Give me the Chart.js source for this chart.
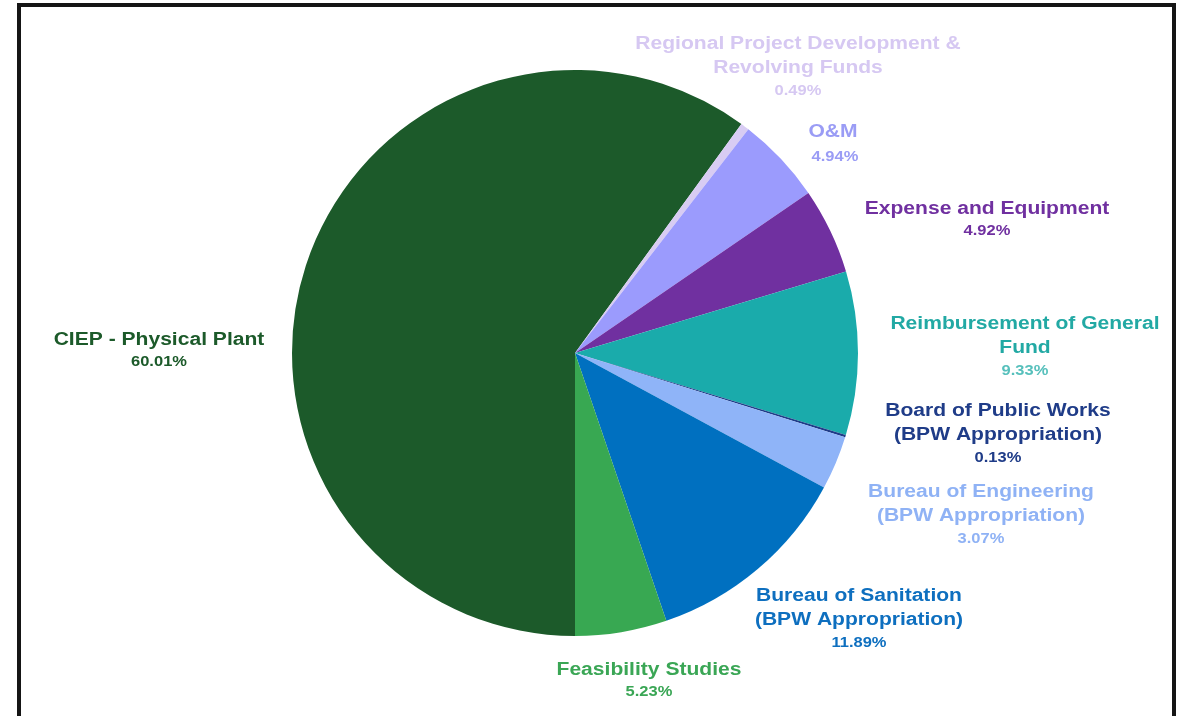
<!DOCTYPE html>
<html>
<head>
<meta charset="utf-8">
<script src="https://cdn.jsdelivr.net/npm/chart.js@4/dist/chart.umd.min.js"></script>
<style>
  html, body { margin: 0; padding: 0; background: #fff; }
  #wrap { width: 1186px; height: 716px; position: relative; }
</style>
</head>
<body>
<div id="wrap"><canvas id="budgetPie" width="1186" height="716"></canvas></div>
<script>
// slice order runs clockwise from the bottom of the pie
const categories = [
    ['CIEP - Physical Plant'],
    ['Regional Project Development &', 'Revolving Funds'],
    ['O&M'],
    ['Expense and Equipment'],
    ['Reimbursement of General', 'Fund'],
    ['Board of Public Works', '(BPW Appropriation)'],
    ['Bureau of Engineering', '(BPW Appropriation)'],
    ['Bureau of Sanitation', '(BPW Appropriation)'],
    ['Feasibility Studies']
];
const shares = [60.01, 0.49, 4.94, 4.92, 9.33, 0.13, 3.07, 11.89, 5.23];
const sliceColors = ['#1c5a2a', '#d8ccf3', '#9b9bfd', '#7030a0', '#1aabab', '#1f3c88', '#8fb4f8', '#0070c0', '#38a852'];
const labelColors = ['#1c5a2a', '#d6c8f2', '#9a9cf5', '#7030a0', '#22a9a4', '#1f3c88', '#8fb2f5', '#0e6fbf', '#3aa655'];
const pctColors = ['#1c5a2a', '#d6c8f2', '#9a9cf5', '#7030a0', '#57c0bc', '#1f3c88', '#8fb2f5', '#0e6fbf', '#3aa655'];

// where each label block sits (center x, first line middle y)
const labelSpots = [
    [159, 340], [798, 44], [833, 132], [987, 209], [1025, 324],
    [998, 411], [981, 492], [859, 596], [649, 670]
];

// the slide text is a bit wider than plain Arial, so stretch it sideways
function wideText(ctx, text, x, y, sx) {
    ctx.save();
    ctx.translate(x, y);
    ctx.scale(sx, 1);
    ctx.fillText(text, 0, 0);
    ctx.restore();
}

const outsideLabels = {
    id: 'outsideLabels',
    afterDraw(chart) {
        const ctx = chart.ctx;
        ctx.save();
        ctx.textAlign = 'center';
        ctx.textBaseline = 'middle';
        categories.forEach((lines, i) => {
            const [x, y] = labelSpots[i];
            ctx.fillStyle = labelColors[i];
            ctx.font = 'bold 18px "Liberation Sans", Arial, sans-serif';
            lines.forEach((t, j) => wideText(ctx, t, x, y + j * 24.5, 1.17));
            ctx.fillStyle = pctColors[i];
            ctx.font = 'bold 15px "Liberation Sans", Arial, sans-serif';
            const gap = i === 2 ? 25 : 22;
            wideText(ctx, shares[i].toFixed(2) + '%', x + (i === 2 ? 2 : 0), y + (lines.length - 1) * 24.5 + gap, 1.1);
        });
        // frame round the slide
        ctx.strokeStyle = '#151515';
        ctx.lineWidth = 4;
        ctx.strokeRect(19, 5, 1155, 760);
        ctx.restore();
    }
};

new Chart(document.getElementById('budgetPie'), {
    type: 'pie',
    data: {
        labels: categories.map(l => l.join(' ')),
        datasets: [{
            data: shares,
            backgroundColor: sliceColors,
            borderWidth: 0
        }]
    },
    options: {
        responsive: false,
        animation: false,
        rotation: 180,
        layout: { padding: { top: 70, bottom: 80, left: 0, right: 36 } },
        plugins: {
            legend: { display: false },
            tooltip: { enabled: false }
        }
    },
    plugins: [outsideLabels]
});
</script>
</body>
</html>
